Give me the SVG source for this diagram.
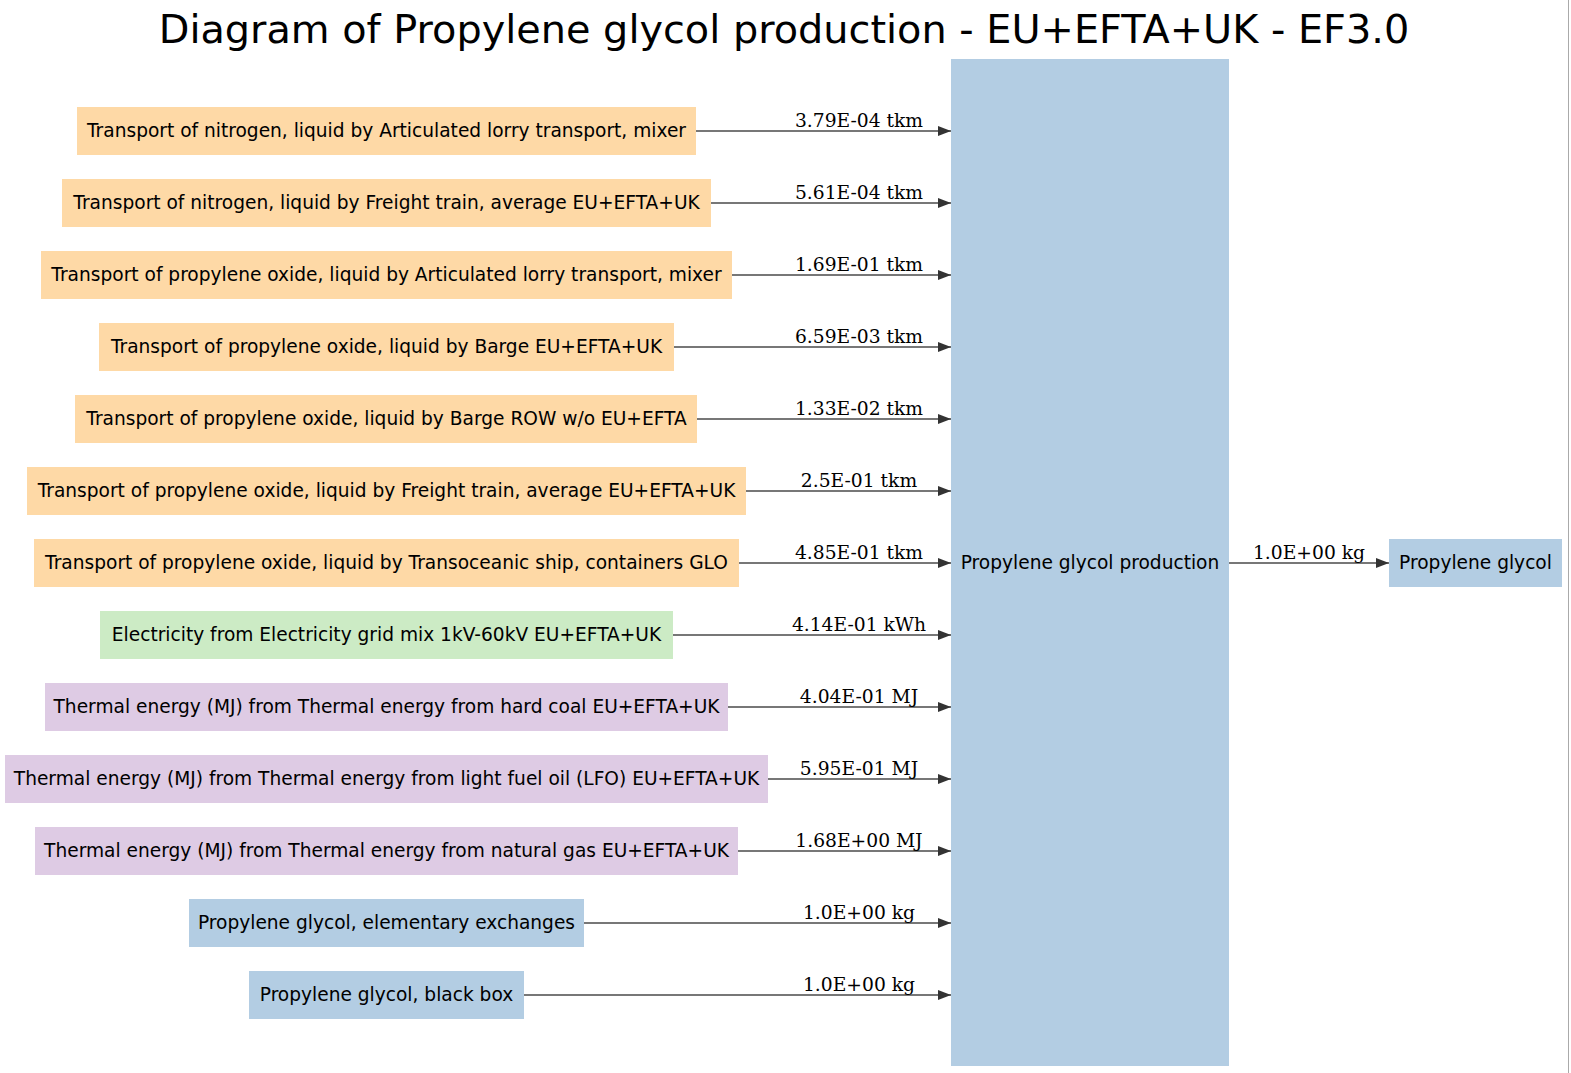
<svg xmlns="http://www.w3.org/2000/svg" width="1571" height="1073" viewBox="0 0 1571 1073">
<style>
.n text{font-family:"DejaVu Sans",Verdana,sans-serif;font-size:18.6px;fill:#000;text-anchor:middle}
.or{fill:#fed9a6}.bl{fill:#b3cde3}.gr{fill:#ccebc5}.pu{fill:#decbe4}
.e line{stroke:#4a4a4a;stroke-width:1.6}
.e text{font-family:"DejaVu Serif","Liberation Serif",serif;font-size:18.7px;fill:#000;text-anchor:middle}
.t{font-family:"DejaVu Sans",Verdana,sans-serif;font-size:39.8px;fill:#000;text-anchor:middle}
</style>
<defs>
<marker id="ah" markerWidth="13" markerHeight="10" refX="13" refY="5" orient="auto" markerUnits="userSpaceOnUse">
<path d="M0,0 L13,5 L0,10 Z" fill="#333"/>
</marker>
</defs>
<rect width="1571" height="1073" fill="#fff"/>
<line x1="1568.5" y1="0" x2="1568.5" y2="1073" stroke="#aaa" stroke-width="1"/>
<text class="t" x="784" y="43">Diagram of Propylene glycol production - EU+EFTA+UK - EF3.0</text>
<g class="e" id="connectors">
<line x1="696" y1="131" x2="951" y2="131" marker-end="url(#ah)"/><text x="859" y="127">3.79E-04 tkm</text>
<line x1="711" y1="203" x2="951" y2="203" marker-end="url(#ah)"/><text x="859" y="199">5.61E-04 tkm</text>
<line x1="732" y1="275" x2="951" y2="275" marker-end="url(#ah)"/><text x="859" y="271">1.69E-01 tkm</text>
<line x1="674" y1="347" x2="951" y2="347" marker-end="url(#ah)"/><text x="859" y="343">6.59E-03 tkm</text>
<line x1="697" y1="419" x2="951" y2="419" marker-end="url(#ah)"/><text x="859" y="415">1.33E-02 tkm</text>
<line x1="746" y1="491" x2="951" y2="491" marker-end="url(#ah)"/><text x="859" y="487">2.5E-01 tkm</text>
<line x1="739" y1="563" x2="951" y2="563" marker-end="url(#ah)"/><text x="859" y="559">4.85E-01 tkm</text>
<line x1="673" y1="635" x2="951" y2="635" marker-end="url(#ah)"/><text x="859" y="631">4.14E-01 kWh</text>
<line x1="728" y1="707" x2="951" y2="707" marker-end="url(#ah)"/><text x="859" y="703">4.04E-01 MJ</text>
<line x1="768" y1="779" x2="951" y2="779" marker-end="url(#ah)"/><text x="859" y="775">5.95E-01 MJ</text>
<line x1="738" y1="851" x2="951" y2="851" marker-end="url(#ah)"/><text x="859" y="847">1.68E+00 MJ</text>
<line x1="584" y1="923" x2="951" y2="923" marker-end="url(#ah)"/><text x="859" y="919">1.0E+00 kg</text>
<line x1="524" y1="995" x2="951" y2="995" marker-end="url(#ah)"/><text x="859" y="991">1.0E+00 kg</text>
<line x1="1229" y1="563" x2="1389" y2="563" marker-end="url(#ah)"/><text x="1309" y="559">1.0E+00 kg</text>
</g>
<g class="n" id="n1"><rect class="or" x="77" y="107" width="619" height="48"/><text x="386.5" y="137">Transport of nitrogen, liquid by Articulated lorry transport, mixer</text></g>
<g class="n" id="n2"><rect class="or" x="62" y="179" width="649" height="48"/><text x="386.5" y="209">Transport of nitrogen, liquid by Freight train, average EU+EFTA+UK</text></g>
<g class="n" id="n3"><rect class="or" x="41" y="251" width="691" height="48"/><text x="386.5" y="281">Transport of propylene oxide, liquid by Articulated lorry transport, mixer</text></g>
<g class="n" id="n4"><rect class="or" x="99" y="323" width="575" height="48"/><text x="386.5" y="353">Transport of propylene oxide, liquid by Barge EU+EFTA+UK</text></g>
<g class="n" id="n5"><rect class="or" x="75" y="395" width="622" height="48"/><text x="386.5" y="425">Transport of propylene oxide, liquid by Barge ROW w/o EU+EFTA</text></g>
<g class="n" id="n6"><rect class="or" x="27" y="467" width="719" height="48"/><text x="386.5" y="497">Transport of propylene oxide, liquid by Freight train, average EU+EFTA+UK</text></g>
<g class="n" id="n7"><rect class="or" x="34" y="539" width="705" height="48"/><text x="386.5" y="569">Transport of propylene oxide, liquid by Transoceanic ship, containers GLO</text></g>
<g class="n" id="n8"><rect class="gr" x="100" y="611" width="573" height="48"/><text x="386.5" y="641">Electricity from Electricity grid mix 1kV-60kV EU+EFTA+UK</text></g>
<g class="n" id="n9"><rect class="pu" x="45" y="683" width="683" height="48"/><text x="386.5" y="713">Thermal energy (MJ) from Thermal energy from hard coal EU+EFTA+UK</text></g>
<g class="n" id="n10"><rect class="pu" x="5" y="755" width="763" height="48"/><text x="386.5" y="785">Thermal energy (MJ) from Thermal energy from light fuel oil (LFO) EU+EFTA+UK</text></g>
<g class="n" id="n11"><rect class="pu" x="35" y="827" width="703" height="48"/><text x="386.5" y="857">Thermal energy (MJ) from Thermal energy from natural gas EU+EFTA+UK</text></g>
<g class="n" id="n12"><rect class="bl" x="189" y="899" width="395" height="48"/><text x="386.5" y="929">Propylene glycol, elementary exchanges</text></g>
<g class="n" id="n13"><rect class="bl" x="249" y="971" width="275" height="48"/><text x="386.5" y="1001">Propylene glycol, black box</text></g>
<g class="n" id="main"><rect class="bl" x="951" y="59" width="278" height="1007"/><text x="1090" y="569">Propylene glycol production</text></g>
<g class="n" id="out"><rect class="bl" x="1389" y="539" width="173" height="48"/><text x="1475.5" y="569">Propylene glycol</text></g>
</svg>
